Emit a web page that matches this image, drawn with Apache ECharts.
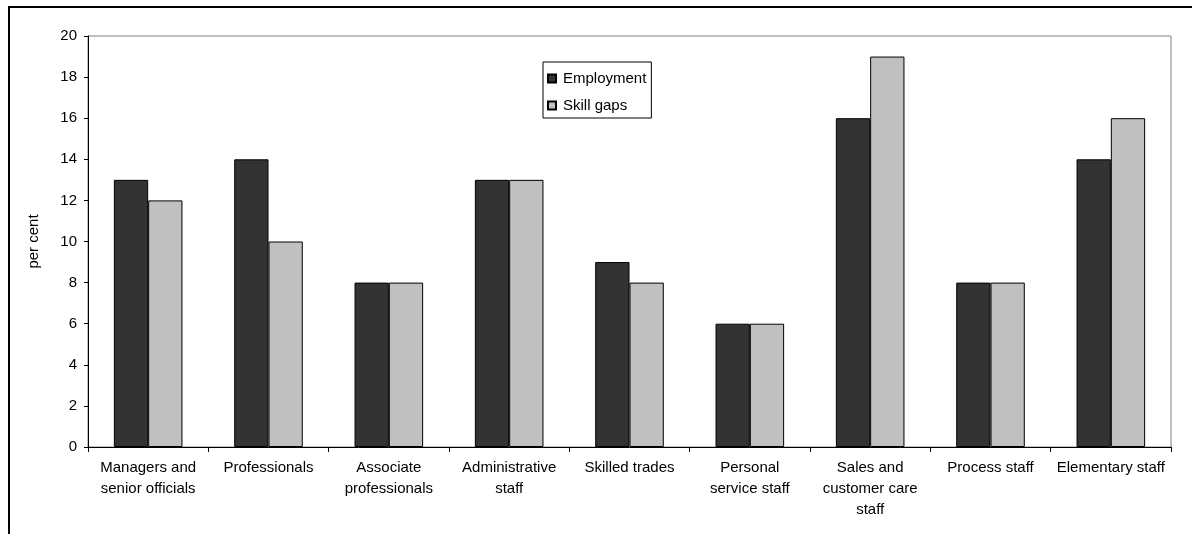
<!DOCTYPE html>
<html>
<head>
<meta charset="utf-8">
<script src="https://cdn.jsdelivr.net/npm/echarts@6/dist/echarts.min.js"></script>
<style>
  html, body { margin: 0; padding: 0; background: #fff; }
  #chart { width: 1192px; height: 534px; }
</style>
</head>
<body>
<div id="chart"></div>
<script>
// Occupational groups (line breaks as set on the axis)
const categories = [
  'Managers and\nsenior officials',
  'Professionals',
  'Associate\nprofessionals',
  'Administrative\nstaff',
  'Skilled trades',
  'Personal\nservice staff',
  'Sales and\ncustomer care\nstaff',
  'Process staff',
  'Elementary staff'
];
const employment = [13, 14, 8, 13, 9, 6, 16, 8, 14];
const skillGaps = [12, 10, 8, 13, 8, 6, 19, 8, 16];
const yTicks = { min: 0, max: 20, interval: 2 };

const chart = echarts.init(document.getElementById('chart'), null, { renderer: 'canvas' });
const font = 'Liberation Sans, Arial, sans-serif';

chart.setOption({
  animation: false,
  backgroundColor: '#ffffff',
  textStyle: { fontFamily: font, color: '#000' },
  graphic: [{
    type: 'rect',
    shape: { x: 9, y: 7, width: 1300, height: 700 },
    style: { fill: 'none', stroke: '#000', lineWidth: 2 },
    silent: true
  }],
  grid: {
    left: 88, top: 36, right: 21, bottom: 87,
    show: true, borderColor: '#808080', borderWidth: 1, backgroundColor: '#fff'
  },
  legend: {
    orient: 'vertical',
    left: 543, top: 62,
    padding: [9, 5, 5, 4],
    itemGap: 12,
    itemWidth: 8, itemHeight: 8,
    icon: 'rect',
    borderColor: '#000', borderWidth: 1,
    textStyle: { fontFamily: font, fontSize: 15, lineHeight: 15, color: '#000', padding: [0, 0, 0, 2] },
    data: ['Employment', 'Skill gaps']
  },
  xAxis: {
    type: 'category',
    data: categories,
    axisLine: { lineStyle: { color: '#000', width: 1 } },
    axisTick: { show: true, length: 5, inside: false, lineStyle: { color: '#000' } },
    axisLabel: {
      interval: 0, margin: 10, fontFamily: font, fontSize: 15,
      color: '#000', lineHeight: 21
    }
  },
  yAxis: {
    type: 'value',
    min: yTicks.min, max: yTicks.max, interval: yTicks.interval,
    name: 'per cent',
    nameLocation: 'middle',
    nameGap: 47,
    nameRotate: 90,
    nameTextStyle: { fontFamily: font, fontSize: 15, color: '#000' },
    axisLine: { show: true, lineStyle: { color: '#000', width: 1 } },
    axisTick: { show: true, length: 4, lineStyle: { color: '#000' } },
    splitLine: { show: false },
    axisLabel: { fontFamily: font, fontSize: 15, color: '#000', margin: 11 }
  },
  series: [
    {
      name: 'Employment', type: 'bar', data: employment,
      barGap: '0%', barCategoryGap: '43%',
      itemStyle: { color: '#333333', borderColor: '#000', borderWidth: 1 }
    },
    {
      name: 'Skill gaps', type: 'bar', data: skillGaps,
      barGap: '0%', barCategoryGap: '43%',
      itemStyle: { color: '#c0c0c0', borderColor: '#000', borderWidth: 1 }
    }
  ]
});
</script>
</body>
</html>
